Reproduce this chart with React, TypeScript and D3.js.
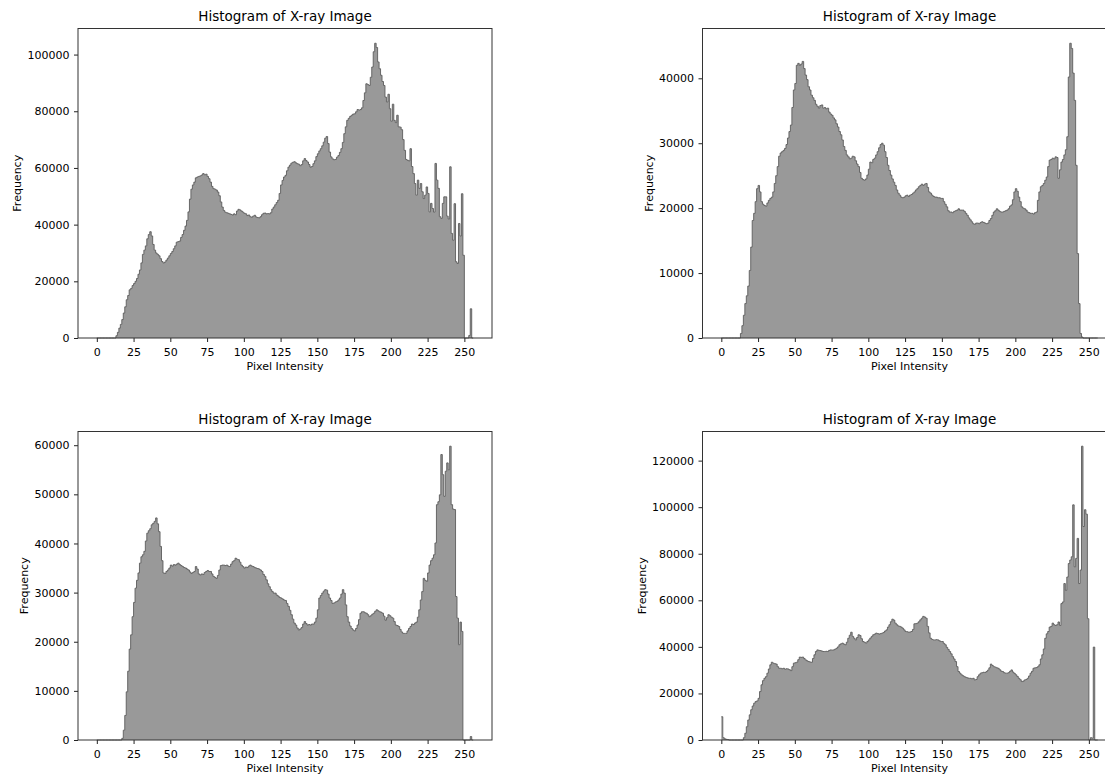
import React, { useEffect, useRef } from 'react';
import * as d3 from 'd3';

const TITLE = 'Histogram of X-ray Image';
const X_LABEL = 'Pixel Intensity';
const Y_LABEL = 'Frequency';
const xTicks = [0, 25, 50, 75, 100, 125, 150, 175, 200, 225, 250];
const xDomain = [-12.8, 268.8];

const yTicksA = [0, 20000, 40000, 60000, 80000, 100000];
const yTicksB = [0, 10000, 20000, 30000, 40000];
const yTicksC = [0, 10000, 20000, 30000, 40000, 50000, 60000];
const yTicksD = [0, 20000, 40000, 60000, 80000, 100000, 120000];

// 256 bins (0..255) per image
const countsA = [
  0,0,0,0,0,0,0,0,0,0,0,0,0,800,2000,3500,
  4800,6500,8800,11000,13500,15000,17000,17500,18500,19200,20000,21000,22500,24000,26500,29500,
  31000,32500,35000,36500,37500,36000,33000,31000,30000,29500,29000,28000,27000,26500,26800,27500,
  28200,29000,29800,30500,31500,32500,33800,34000,34200,35500,36500,38000,39500,41500,44500,49000,
  52500,54000,55000,56500,56800,57000,57200,57500,58000,57600,57800,57000,56200,55000,53500,52700,
  52500,52200,51500,50200,48000,46200,45000,44400,44200,44000,43800,43600,43400,43800,43500,44800,
  45400,45200,44800,44400,44000,43800,43200,43400,42800,42600,43000,43300,42700,42500,42400,42800,
  43500,44000,44100,43800,43900,43800,44200,45500,46200,47000,47800,48600,51000,54000,55600,56800,
  57400,59000,60300,61000,61700,62000,62200,61800,61500,61300,60800,61200,62500,63300,62600,62100,
  61200,60300,60500,61500,62500,64000,65000,66000,66800,67800,69100,70500,71100,68600,65600,63900,
  63200,62900,63000,63800,64400,65500,66800,69000,72100,74500,76800,77500,78200,78600,79000,79100,
  79800,80600,80400,80600,81200,83800,86500,89700,89400,89100,92000,95600,101000,104000,102500,97400,
  95000,92700,90500,89100,85000,83300,86000,80900,76500,82500,76800,76000,78600,74500,74400,73500,
  70000,66200,63000,62700,62500,66800,60500,58000,54500,50400,55700,52800,54500,51600,49200,50400,
  53300,51000,44500,47500,45700,44400,61600,55700,52800,42800,42200,47500,49800,49800,43000,42000,
  60400,36900,34500,47400,26900,26300,40400,36000,50900,29200,0,0,0,900,10300,0,
];

const countsB = [
  0,0,0,0,0,0,0,0,0,0,0,0,0,700,1900,3500,
  5300,6500,8000,10400,14000,18100,19200,21000,23000,23500,22500,21000,20600,20400,20300,20800,
  21200,21500,21700,22500,23800,25000,26400,28000,28500,28700,28900,29200,29800,30800,31800,32800,
  35500,38200,39200,42000,42300,42000,42200,42600,41500,40500,39800,38700,38200,37400,37000,36600,
  36000,35700,35400,35800,35900,35400,35500,35300,35400,34800,34500,34300,33900,33600,33000,32500,
  31800,31300,30500,29500,28900,28200,27900,27600,27700,28000,27900,27300,26800,26400,25500,24600,
  24400,24300,24500,25100,26000,27100,27000,27500,27700,28200,28700,29300,29800,30000,29700,28700,
  27800,26600,25800,25100,24500,24000,23500,22800,22300,22000,21700,21600,21700,21900,22000,21800,
  22000,22100,22300,22500,22800,23000,23300,23500,23700,23500,23700,23800,23200,22500,22300,22000,
  21800,21700,21700,21600,21600,21500,21500,21000,20600,20200,19600,19400,19400,19300,19500,19600,
  19700,19900,19700,19700,19700,19500,19200,18900,18500,18200,17900,17600,17500,17700,17700,17600,
  17800,17900,17800,17700,17600,17700,18100,18400,18900,19400,19600,19900,19700,19500,19400,19400,
  19500,19600,19700,19900,20300,20500,21300,22500,23000,22600,21700,21000,20200,20000,19900,19700,
  19400,19300,19200,19200,19100,19300,19400,21200,22500,23300,23500,23800,24300,24800,26400,27400,
  27500,27700,27600,27900,27800,24600,25900,27100,27500,28200,29000,31000,40200,45400,44600,40800,
  36600,26600,13000,5300,700,150,0,0,0,0,0,0,0,0,0,0,
];

const countsC = [
  0,0,0,0,0,0,0,0,0,0,0,0,0,0,0,0,
  0,340,2000,5000,9800,14000,18500,21400,25100,28000,30900,32500,34000,36000,37300,37700,
  38400,40500,42100,42600,43000,43800,44100,44500,45200,44000,42400,39400,36500,34000,33900,34300,
  34600,35000,35600,35400,35700,35600,35800,36000,35700,35500,35300,35100,35000,34800,34600,34200,
  33900,34100,34300,35300,34800,33800,33600,33800,33700,34100,34300,34500,34300,34300,33800,33300,
  33100,32900,33500,34600,35500,35600,35600,35500,35600,35400,35300,35800,36300,36500,37000,36800,
  36700,36200,35600,35300,35000,35200,35100,35400,35600,35400,35300,35100,35000,34900,34800,34600,
  34300,33700,33300,32600,31800,31200,30600,30200,29900,29900,29500,29300,29000,28900,28700,28500,
  28400,27800,27200,26400,25500,24600,23800,23400,22800,22400,22600,22900,23600,24100,23700,23400,
  23500,23400,23600,23600,24000,24800,26500,28900,29400,29900,30300,30600,30500,29700,28900,28400,
  27800,27900,28100,28200,28500,28900,29700,30600,29900,27500,25100,24000,23200,22700,22400,22200,
  22700,23400,24500,25800,26100,26100,25900,25800,25500,25100,25300,25600,25800,26200,26500,26300,
  26100,26000,25800,25200,24400,24900,25500,25300,25000,24800,24100,23400,23300,23100,22500,22000,
  21700,21700,21700,22200,22700,23100,23600,23500,23800,24000,25000,26500,28500,30200,32900,32500,
  32300,34000,35600,36500,37000,37700,40100,47900,48500,49900,58100,54000,49600,54700,56400,55000,
  59800,47900,47000,46900,29200,24800,19400,24000,22100,0,0,0,0,0,700,0,
];

const countsD = [
  10000,1000,500,300,200,0,0,0,0,0,0,0,0,0,0,1000,
  2900,5700,8600,10800,13000,14600,15800,16500,16800,17900,20800,23700,25500,26500,27200,28700,
  30500,32300,33400,33000,32800,32600,31500,30800,30800,30600,30800,30400,30600,30500,30200,29800,
  31500,33000,33200,33400,34500,35600,35500,35600,35000,34400,34000,33700,33500,33400,35000,36600,
  38000,38700,38500,38400,38200,38000,38000,38100,38000,38500,38700,38600,38700,39000,39400,40000,
  40900,41300,41600,41200,40900,42000,43700,45000,46300,44500,43700,43000,44000,45200,44900,43500,
  42300,42000,41600,42300,43000,43800,44500,45200,45500,45900,45700,45500,45700,45900,46200,46800,
  47300,48500,49500,50800,51900,51500,50200,49500,49000,48800,48500,48000,47300,46600,46500,46300,
  46400,46600,47500,49900,50000,50200,50800,51600,52300,53100,52800,52300,48800,46000,43700,43200,
  43000,43000,43100,43000,42600,42300,42300,41500,40900,39800,38900,38000,37000,35800,34800,33700,
  31500,29400,28700,28000,27600,27200,26900,26700,26500,26500,26300,26500,25800,26000,27200,28000,
  28700,28900,29100,29000,29400,30000,31000,32600,32000,31500,31300,31000,30800,30200,29600,29400,
  28900,28700,28700,28900,29500,30100,29200,28600,28000,27300,26500,25900,25100,25300,25800,26000,
  26500,27500,28700,29500,30800,31000,31100,31500,32300,34800,36600,39100,43700,45600,46600,48500,
  48800,50200,49500,49200,49500,50700,49200,58600,59300,67200,64300,70000,75800,77300,78700,101000,
  74400,78000,86600,67200,73000,126200,91700,98900,97000,52100,0,1000,800,39900,0,0,
];

const panels = [
  { counts: countsA, yTicks: yTicksA, left: 78, top: 28.5, width: 414, height: 309.5 },
  { counts: countsB, yTicks: yTicksB, left: 702.5, top: 28.5, width: 414, height: 309.5 },
  { counts: countsC, yTicks: yTicksC, left: 78, top: 431.5, width: 414, height: 308.5 },
  { counts: countsD, yTicks: yTicksD, left: 702.5, top: 431.5, width: 414, height: 308.5 },
];

const FONT = 'DejaVu Sans, sans-serif';
const TICK_FS = 11;
const LABEL_FS = 11;
const TITLE_FS = 13.5;

export default function App() {
  const ref = useRef<SVGSVGElement | null>(null);

  useEffect(() => {
    const svg = d3.select(ref.current);
    svg.selectAll('*').remove();

    panels.forEach((p) => {
      const x = d3.scaleLinear().domain(xDomain).range([p.left, p.left + p.width]);
      const maxV = d3.max(p.counts) as number;
      const y = d3.scaleLinear().domain([0, maxV * 1.05]).range([p.top + p.height, p.top]);
      const y0 = y(0);

      const pts: [number, number][] = [];
      p.counts.forEach((v, i) => {
        pts.push([x(i), y(v)]);
        pts.push([x(i + 1), y(v)]);
      });

      const g = svg.append('g');
      const area = d3.area<[number, number]>().x((d) => d[0]).y0(y0).y1((d) => d[1]);
      g.append('path').attr('d', area(pts)).attr('fill', '#999999');
      const line = d3.line<[number, number]>().x((d) => d[0]).y((d) => d[1]);
      g.append('path')
        .attr('d', line(pts))
        .attr('fill', 'none')
        .attr('stroke', '#5c5c5c')
        .attr('stroke-width', 0.9);

      // x axis
      const xAxis = d3.axisBottom(x).tickValues(xTicks).tickSize(4).tickPadding(4).tickSizeOuter(0);
      const gx = g.append('g').attr('transform', `translate(0,${y0})`).call(xAxis);
      gx.select('.domain').remove();
      gx.selectAll('line').attr('stroke', '#222');
      gx.selectAll('text')
        .attr('font-family', FONT)
        .attr('font-size', TICK_FS)
        .attr('fill', '#000')
        .attr('dy', '0.95em');

      // y axis
      const yAxis = d3.axisLeft(y).tickValues(p.yTicks).tickFormat(d3.format('d')).tickSize(4).tickPadding(4.5).tickSizeOuter(0);
      const gy = g.append('g').attr('transform', `translate(${p.left},0)`).call(yAxis);
      gy.select('.domain').remove();
      gy.selectAll('line').attr('stroke', '#222');
      gy.selectAll('text').attr('font-family', FONT).attr('font-size', TICK_FS).attr('fill', '#000');

      let maxW = 0;
      gy.selectAll<SVGTextElement, unknown>('text').each(function () {
        const w = this.getBBox().width;
        if (w > maxW) maxW = w;
      });

      // frame
      g.append('rect')
        .attr('x', p.left)
        .attr('y', p.top)
        .attr('width', p.width)
        .attr('height', p.height)
        .attr('fill', 'none')
        .attr('stroke', '#333')
        .attr('stroke-width', 1);

      // title
      g.append('text')
        .attr('x', p.left + p.width / 2)
        .attr('y', p.top - 8)
        .attr('text-anchor', 'middle')
        .attr('font-family', FONT)
        .attr('font-size', TITLE_FS)
        .attr('fill', '#000')
        .text(TITLE);

      // x label
      g.append('text')
        .attr('x', p.left + p.width / 2)
        .attr('y', y0 + 32)
        .attr('text-anchor', 'middle')
        .attr('font-family', FONT)
        .attr('font-size', LABEL_FS)
        .attr('fill', '#000')
        .text(X_LABEL);

      // y label
      const lx = p.left - 8.5 - maxW - 6.5;
      const ly = p.top + p.height / 2;
      g.append('text')
        .attr('transform', `translate(${lx},${ly}) rotate(-90)`)
        .attr('text-anchor', 'middle')
        .attr('font-family', FONT)
        .attr('font-size', LABEL_FS)
        .attr('fill', '#000')
        .text(Y_LABEL);
    });
  }, []);

  return (
    <svg
      ref={ref}
      width={1105}
      height={778}
      style={{ position: 'absolute', left: 0, top: 0, background: '#fff', overflow: 'hidden' }}
    />
  );
}
